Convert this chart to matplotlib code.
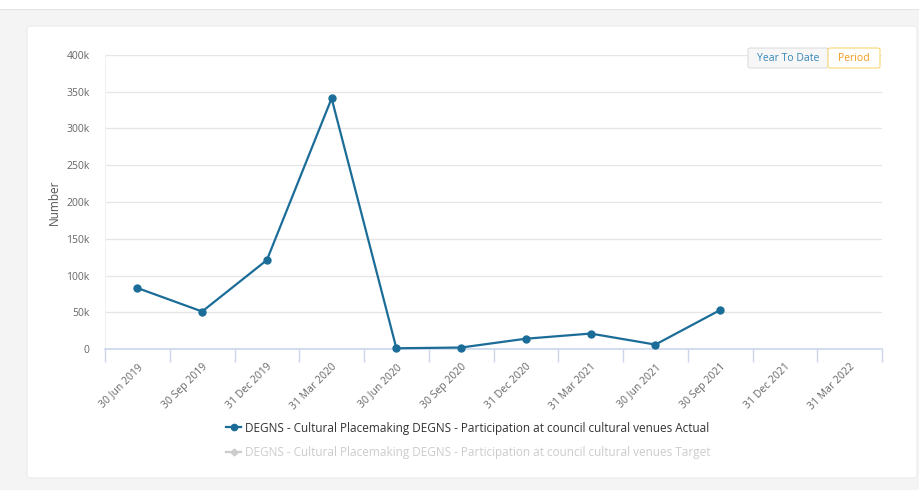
import numpy as np
import matplotlib
matplotlib.use('Agg')
import matplotlib.pyplot as plt
from matplotlib.patches import FancyBboxPatch, Rectangle
from matplotlib.lines import Line2D

plt.rcParams['font.family'] = ['Open Sans', 'DejaVu Sans']

quarters = ['30 Jun 2019', '30 Sep 2019', '31 Dec 2019', '31 Mar 2020',
            '30 Jun 2020', '30 Sep 2020', '31 Dec 2020', '31 Mar 2021',
            '30 Jun 2021', '30 Sep 2021', '31 Dec 2021', '31 Mar 2022']
actual = [83000, 51000, 121000, 341000, 1000, 2000, 14000, 21000, 6000, 53000,
          np.nan, np.nan]
y_ticks = [0, 50000, 100000, 150000, 200000, 250000, 300000, 350000, 400000]
y_labels = ['0', '50k', '100k', '150k', '200k', '250k', '300k', '350k', '400k']
name_actual = 'DEGNS - Cultural Placemaking DEGNS - Participation at council cultural venues Actual'
name_target = 'DEGNS - Cultural Placemaking DEGNS - Participation at council cultural venues Target'

line_color = '#1b6d98'
grid_color = '#e6e6e6'
axis_color = '#ccd6eb'
text_color = '#666666'

W, H = 919, 490
fig = plt.figure(figsize=(W / 100, H / 100), dpi=100)
fig.patch.set_facecolor('#f4f4f4')

# top white strip and card
fig.patches.append(Rectangle((0, 1 - 9 / H), 1, 9 / H, transform=fig.transFigure,
                             facecolor='white', edgecolor='none', zorder=-2))
fig.patches.append(Rectangle((0, 1 - 10 / H), 1, 1.2 / H, transform=fig.transFigure,
                             facecolor='#e2e2e2', edgecolor='none', zorder=-2))
fig.patches.append(FancyBboxPatch((27 / W, 1 - 478 / H), (917 - 27) / W, (478 - 26) / H,
                                  boxstyle='round,pad=0,rounding_size=0.005',
                                  transform=fig.transFigure, facecolor='white',
                                  edgecolor='#ececec', linewidth=0.8, zorder=-1))

ax = fig.add_axes([105 / W, 1 - 349 / H, (882 - 105) / W, (349 - 55) / H])
ax.set_zorder(2)
ax.set_facecolor('none')

x = np.arange(len(quarters))
ax.plot(x, actual, color=line_color, linewidth=1.6, marker='o', markersize=5,
        zorder=3, clip_on=False)

ax.set_xlim(-0.5, len(quarters) - 0.5)
ax.set_ylim(0, 400000)
ax.set_yticks(y_ticks)
ax.set_yticklabels(y_labels)
ax.set_xticks(x)
ax.set_xticklabels(quarters, rotation=45, ha='right', rotation_mode='anchor')
ax.set_xticks(np.arange(len(quarters) + 1) - 0.5, minor=True)

ax.tick_params(axis='y', length=0, pad=11, labelsize=7.5, labelcolor=text_color)
ax.tick_params(axis='x', which='major', length=0, pad=9, labelsize=7.5, labelcolor=text_color)
ax.tick_params(axis='x', which='minor', length=9, color=axis_color, width=1)

ax.grid(axis='y', color=grid_color, linewidth=1)
ax.set_axisbelow(True)
for s in ['top', 'right']:
    ax.spines[s].set_visible(False)
ax.spines['left'].set_color('#eef1f6')
ax.spines['bottom'].set_color(axis_color)
ax.spines['bottom'].set_linewidth(1.2)

ax.set_ylabel('Number', fontsize=8.5, color='#555555', labelpad=4)

# legend
handles = [Line2D([], [], color=line_color, marker='o', markersize=4.5, linewidth=1.6),
           Line2D([], [], color='#cccccc', marker='D', markersize=3.5, linewidth=1.6)]
leg = fig.legend(handles, [name_actual, name_target], loc='upper center',
                 bbox_to_anchor=(0.51, 1 - 411 / H), frameon=False, fontsize=8.5,
                 handlelength=1.2, handletextpad=0.4, labelspacing=1.0,
                 labelcolor=['#333333', '#cccccc'])

# buttons
def button(x0, x1, label, tcolor, ecolor, fcolor):
    fig.patches.append(FancyBboxPatch((x0 / W, 1 - 68 / H), (x1 - x0) / W, 20 / H,
                                      boxstyle='round,pad=0,rounding_size=0.003',
                                      transform=fig.transFigure, facecolor=fcolor,
                                      edgecolor=ecolor, linewidth=0.8, zorder=5))
    fig.text((x0 + x1) / 2 / W, 1 - 58.5 / H, label, ha='center', va='center',
             fontsize=7.5, color=tcolor, zorder=6)

button(748, 828, 'Year To Date', '#3487b8', '#dddddd', '#f7f7f7')
button(828, 880, 'Period', '#f09a1a', '#f7d774', 'white')

fig.savefig('out.png', dpi=100, facecolor=fig.get_facecolor())
